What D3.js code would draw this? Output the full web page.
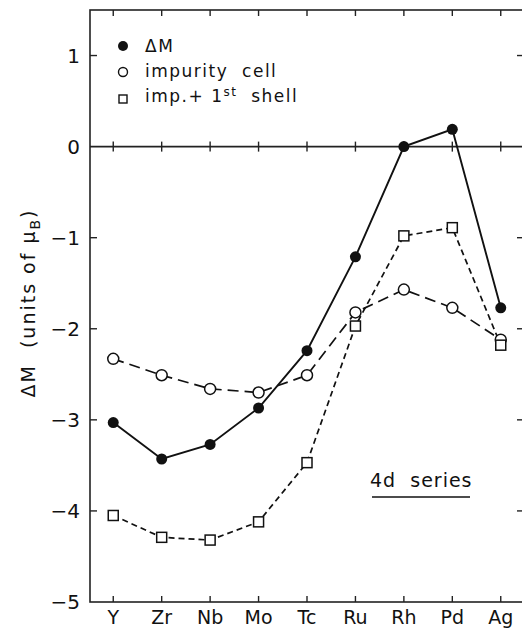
<!DOCTYPE html>
<html>
<head>
<meta charset="utf-8">
<script src="https://cdn.jsdelivr.net/npm/d3@7"></script>
<style>
  body { margin: 0; background: #fff; }
  text { font-family: "DejaVu Sans", sans-serif; fill: #111; }
</style>
</head>
<body>
<div id="chart"></div>
<script>
const elements = ['Y', 'Zr', 'Nb', 'Mo', 'Tc', 'Ru', 'Rh', 'Pd', 'Ag'];
const deltaM = [-3.03, -3.43, -3.27, -2.87, -2.24, -1.21, 0.0, 0.19, -1.77];
const impurityCell = [-2.33, -2.51, -2.66, -2.70, -2.51, -1.82, -1.57, -1.77, -2.12];
const impFirstShell = [-4.05, -4.29, -4.32, -4.12, -3.47, -1.97, -0.98, -0.89, -2.18];
const yTicks = [1, 0, -1, -2, -3, -4, -5];

const width = 522;
const height = 630;
const plotLeft = 90, plotRight = 524, plotTop = 10, plotBottom = 602;

const svg = d3.select('#chart').append('svg')
  .attr('width', width)
  .attr('height', height);

const x = d3.scalePoint()
  .domain(elements)
  .range([plotLeft, plotRight])
  .padding(0.48);

const y = d3.scaleLinear()
  .domain([-5, 1.5])
  .range([plotBottom, plotTop]);

// frame
svg.append('rect')
  .attr('x', plotLeft).attr('y', plotTop)
  .attr('width', plotRight - plotLeft).attr('height', plotBottom - plotTop)
  .attr('fill', 'none').attr('stroke', '#222').attr('stroke-width', 1.6);

// zero line
svg.append('line')
  .attr('x1', plotLeft).attr('x2', plotRight)
  .attr('y1', y(0)).attr('y2', y(0))
  .attr('stroke', '#222').attr('stroke-width', 1.6);

// x ticks: top, zero line, bottom
const xt = svg.append('g').attr('stroke', '#222').attr('stroke-width', 1.4);
elements.forEach(function(e) {
  xt.append('line').attr('x1', x(e)).attr('x2', x(e)).attr('y1', plotTop).attr('y2', plotTop + 6);
  xt.append('line').attr('x1', x(e)).attr('x2', x(e)).attr('y1', y(0) - 5).attr('y2', y(0) + 5);
  xt.append('line').attr('x1', x(e)).attr('x2', x(e)).attr('y1', plotBottom).attr('y2', plotBottom - 6);
});

// y ticks
yTicks.forEach(function(t) {
  if (t !== -5 && t !== 0) {
    xt.append('line').attr('x1', plotLeft).attr('x2', plotLeft + 7).attr('y1', y(t)).attr('y2', y(t));
    xt.append('line').attr('x1', plotRight - 7).attr('x2', plotRight).attr('y1', y(t)).attr('y2', y(t));
  }
});

svg.append('g').selectAll('text')
  .data(yTicks)
  .enter().append('text')
  .attr('x', 80)
  .attr('y', function(d) { return y(d) + 7; })
  .attr('text-anchor', 'end')
  .style('font-size', '20px')
  .text(function(d) { return d < 0 ? '\u2212' + Math.abs(d) : d; });

svg.append('g').selectAll('text')
  .data(elements)
  .enter().append('text')
  .attr('x', function(d) { return x(d); })
  .attr('y', 624)
  .attr('text-anchor', 'middle')
  .style('font-size', '19px')
  .text(function(d) { return d; });

// y axis label
const yl = svg.append('text')
  .attr('transform', 'translate(35,303) rotate(-90)')
  .attr('text-anchor', 'middle')
  .style('font-size', '19px')
  .style('letter-spacing', '2px');
yl.append('tspan').attr('xml:space', 'preserve').text('\u0394M  (units of \u03bc');
yl.append('tspan').attr('dy', 5).style('font-size', '14px').text('B');
yl.append('tspan').attr('dy', -5).text(')');

// series lines
const line = d3.line()
  .x(function(d, i) { return x(elements[i]); })
  .y(function(d) { return y(d); });

svg.append('path').datum(impurityCell)
  .attr('d', line).attr('fill', 'none')
  .attr('stroke', '#111').attr('stroke-width', 1.7)
  .attr('stroke-dasharray', '11,6');

svg.append('path').datum(impFirstShell)
  .attr('d', line).attr('fill', 'none')
  .attr('stroke', '#111').attr('stroke-width', 1.7)
  .attr('stroke-dasharray', '6,4');

svg.append('path').datum(deltaM)
  .attr('d', line).attr('fill', 'none')
  .attr('stroke', '#111').attr('stroke-width', 1.9);

// markers
svg.append('g').selectAll('circle')
  .data(impurityCell)
  .enter().append('circle')
  .attr('cx', function(d, i) { return x(elements[i]); })
  .attr('cy', function(d) { return y(d); })
  .attr('r', 5.5)
  .attr('fill', '#fff').attr('stroke', '#111').attr('stroke-width', 1.5);

svg.append('g').selectAll('rect')
  .data(impFirstShell)
  .enter().append('rect')
  .attr('x', function(d, i) { return x(elements[i]) - 5; })
  .attr('y', function(d) { return y(d) - 5; })
  .attr('width', 10).attr('height', 10)
  .attr('fill', '#fff').attr('stroke', '#111').attr('stroke-width', 1.5);

svg.append('g').selectAll('circle')
  .data(deltaM)
  .enter().append('circle')
  .attr('cx', function(d, i) { return x(elements[i]); })
  .attr('cy', function(d) { return y(d); })
  .attr('r', 5.5)
  .attr('fill', '#111');

// legend
const legend = svg.append('g').style('font-size', '17px').style('letter-spacing', '1.5px');
legend.append('circle').attr('cx', 123).attr('cy', 46).attr('r', 5).attr('fill', '#111');
legend.append('text').attr('x', 145).attr('y', 52).text('\u0394M');
legend.append('circle').attr('cx', 123).attr('cy', 72).attr('r', 4.5)
  .attr('fill', '#fff').attr('stroke', '#111').attr('stroke-width', 1.4);
legend.append('text').attr('x', 145).attr('y', 77).attr('xml:space', 'preserve').text('impurity  cell');
legend.append('rect').attr('x', 119).attr('y', 95).attr('width', 8).attr('height', 8)
  .attr('fill', '#fff').attr('stroke', '#111').attr('stroke-width', 1.4);
const lt = legend.append('text').attr('x', 145).attr('y', 102).attr('xml:space', 'preserve');
lt.append('tspan').text('imp.+ 1');
lt.append('tspan').attr('dy', -6).style('font-size', '12px').text('st');
lt.append('tspan').attr('dy', 6).text('  shell');

// annotation
svg.append('text')
  .attr('x', 370).attr('y', 487)
  .style('font-size', '19px')
  .style('letter-spacing', '1px')
  .attr('xml:space', 'preserve')
  .text('4d  series');
svg.append('line')
  .attr('x1', 372).attr('x2', 470)
  .attr('y1', 497).attr('y2', 497)
  .attr('stroke', '#111').attr('stroke-width', 1.4);
</script>
</body>
</html>
